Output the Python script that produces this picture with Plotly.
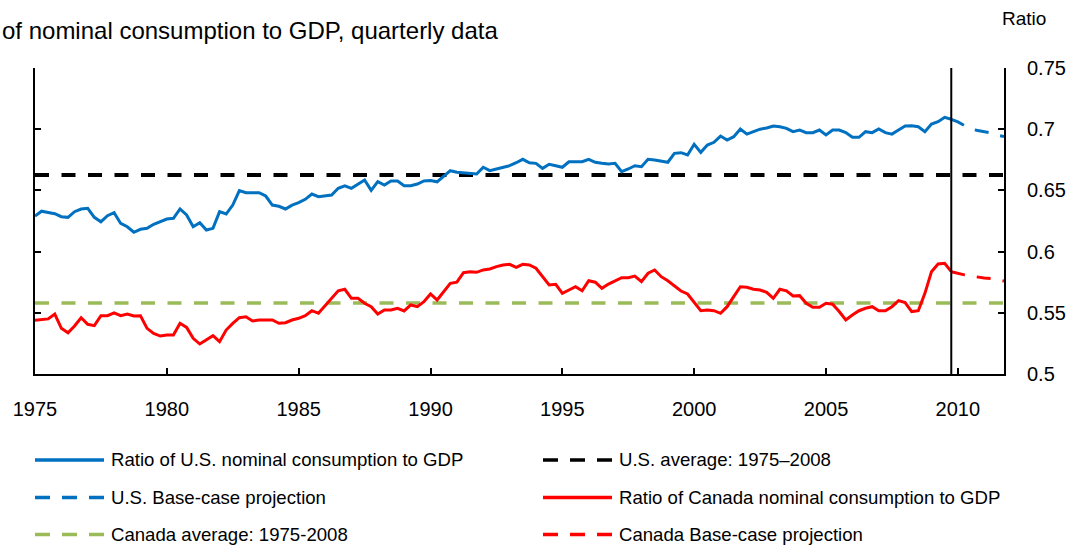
import plotly.graph_objects as go

# ---------------- data ----------------
start_year = 1975          # first quarter = 1975Q1
quarters_per_year = 4

us_ratio = [
    0.629, 0.633, 0.632, 0.631, 0.6285, 0.628, 0.6326, 0.6348, 0.6354, 0.628,
    0.6244, 0.6293, 0.6318, 0.623, 0.6203, 0.6158, 0.6182, 0.619, 0.6223, 0.6244,
    0.6266, 0.6272, 0.6348, 0.6299, 0.6203, 0.6236, 0.6176, 0.619, 0.6326, 0.6307,
    0.638, 0.6498, 0.6481, 0.648, 0.6481, 0.6454, 0.638, 0.637, 0.6348, 0.638,
    0.64, 0.6427, 0.647, 0.6449, 0.6455, 0.6462, 0.6517, 0.6538, 0.6517, 0.655,
    0.6585, 0.65, 0.6571, 0.6544, 0.6577, 0.6577, 0.6538, 0.6538, 0.6552, 0.6577,
    0.658, 0.657, 0.6618, 0.6661, 0.6648, 0.6645, 0.6642, 0.6634, 0.6689, 0.6661,
    0.6675, 0.6691, 0.6702, 0.6726, 0.6754, 0.6726, 0.6721, 0.668, 0.6713, 0.6702,
    0.6689, 0.6734, 0.6734, 0.6734, 0.6754, 0.673, 0.6721, 0.6716, 0.6721, 0.6653,
    0.6675, 0.6702, 0.6694, 0.6754, 0.6748, 0.674, 0.673, 0.6803, 0.6808, 0.6789,
    0.6877, 0.6811, 0.6871, 0.6893, 0.6944, 0.6912, 0.6939, 0.7002, 0.696, 0.698,
    0.700, 0.701, 0.7026, 0.702, 0.7007, 0.698, 0.6993, 0.6972, 0.6972, 0.6993,
    0.6953, 0.6993, 0.6993, 0.6972, 0.6934, 0.6934, 0.698, 0.6972, 0.7002, 0.6972,
    0.696, 0.6993, 0.7026, 0.7028, 0.702, 0.698, 0.7042, 0.7061, 0.7097, 0.7081,
]

ca_ratio = [
    0.544, 0.5445, 0.545, 0.549, 0.5373, 0.5337, 0.5392, 0.546, 0.5406, 0.5395,
    0.5476, 0.5476, 0.55, 0.5476, 0.549, 0.5474, 0.5476, 0.5373, 0.5332, 0.531,
    0.5318, 0.5318, 0.5414, 0.5381, 0.5292, 0.5245, 0.5278, 0.5313, 0.5264, 0.5359,
    0.5414, 0.546, 0.5468, 0.5433, 0.5441, 0.5441, 0.5441, 0.5414, 0.5419, 0.5441,
    0.5455, 0.5476, 0.5517, 0.5496, 0.5558, 0.5618, 0.568, 0.5692, 0.5618, 0.5618,
    0.5578, 0.555, 0.549, 0.5523, 0.5523, 0.5537, 0.5515, 0.5564, 0.555, 0.5591,
    0.5654, 0.5605, 0.5673, 0.5741, 0.575, 0.5828, 0.5836, 0.5831, 0.585, 0.5858,
    0.5877, 0.5891, 0.5896, 0.5872, 0.5896, 0.5891, 0.5864, 0.5795, 0.5727, 0.5733,
    0.5659, 0.5686, 0.5713, 0.568, 0.5762, 0.575, 0.57, 0.5735, 0.5762, 0.5787,
    0.5787, 0.58, 0.5754, 0.5823, 0.585, 0.5795, 0.5762, 0.5721, 0.5678, 0.5654,
    0.5583, 0.5517, 0.5523, 0.5517, 0.5496, 0.555, 0.5632, 0.5713, 0.5708, 0.5692,
    0.5686, 0.5667, 0.5618, 0.5692, 0.568, 0.5637, 0.564, 0.5578, 0.5545, 0.5545,
    0.5578, 0.557, 0.551, 0.5441, 0.5482, 0.5517, 0.5537, 0.555, 0.5517, 0.5517,
    0.555, 0.5599, 0.5583, 0.551, 0.5517, 0.5659, 0.5836, 0.5899, 0.5904, 0.5836,
]

# projections: 2009Q4 .. 2011Q4
us_proj = [0.7081, 0.706, 0.703, 0.700, 0.699, 0.698, 0.697, 0.695, 0.694]
ca_proj = [0.5836, 0.582, 0.581, 0.580, 0.579, 0.5785, 0.578, 0.577, 0.576]

us_avg = 0.6626   # U.S. average: 1975–2008
ca_avg = 0.558    # Canada average: 1975-2008

x_ticks = [1975, 1980, 1985, 1990, 1995, 2000, 2005, 2010]
y_ticks = [0.5, 0.55, 0.6, 0.65, 0.7, 0.75]
y_tick_text = ["0.5", "0.55", "0.6", "0.65", "0.7", "0.75"]

legend_names = [
    "Ratio of U.S. nominal consumption to GDP",
    "U.S. average: 1975–2008",
    "U.S. Base-case projection",
    "Ratio of Canada nominal consumption to GDP",
    "Canada average: 1975-2008",
    "Canada Base-case projection",
]

# ---------------- derived x positions ----------------
hist_x = [start_year + i / quarters_per_year for i in range(len(us_ratio))]
proj_start = hist_x[-1]
proj_x = [proj_start + i / quarters_per_year for i in range(len(us_proj))]
x_min, x_max = start_year, proj_x[-1]

BLUE = "#0070C0"
RED = "#FF0000"
GREEN = "#9BBB59"
BLACK = "#000000"
FONT = "Liberation Sans, Arial, sans-serif"

fig = go.Figure()
fig.add_trace(go.Scatter(x=[x_min, x_max], y=[us_avg, us_avg], mode="lines",
                         line=dict(color=BLACK, width=4, dash="14px,12.5px"),
                         name=legend_names[1], showlegend=False))
fig.add_trace(go.Scatter(x=[x_min, x_max], y=[ca_avg, ca_avg], mode="lines",
                         line=dict(color=GREEN, width=3.5, dash="14px,12.5px"),
                         name=legend_names[4], showlegend=False))
fig.add_trace(go.Scatter(x=hist_x, y=us_ratio, mode="lines",
                         line=dict(color=BLUE, width=3),
                         name=legend_names[0], showlegend=False))
fig.add_trace(go.Scatter(x=hist_x, y=ca_ratio, mode="lines",
                         line=dict(color=RED, width=3),
                         name=legend_names[3], showlegend=False))
fig.add_trace(go.Scatter(x=proj_x, y=us_proj, mode="lines",
                         line=dict(color=BLUE, width=3, dash="14px,12px"),
                         name=legend_names[2], showlegend=False))
fig.add_trace(go.Scatter(x=proj_x, y=ca_proj, mode="lines",
                         line=dict(color=RED, width=3, dash="14px,12px"),
                         name=legend_names[5], showlegend=False))

# vertical line marking start of projection
fig.add_shape(type="line", xref="x", yref="paper", x0=proj_start, x1=proj_start,
              y0=0, y1=1, line=dict(color=BLACK, width=2))

# ---------------- manual legend (pixel layout converted to paper) ----------------
L, R, T, B = 35, 74, 68, 178
W, H = 1078, 552
pw, ph = W - L - R, H - T - B

def px(xp):
    return (xp - L) / pw

def py(yp):
    return (H - B - yp) / ph

legend_items = [
    (legend_names[0], BLUE, None, 35, 460),
    (legend_names[1], BLACK, "15px,12px", 543, 460),
    (legend_names[2], BLUE, "15px,12px", 35, 497.5),
    (legend_names[3], RED, None, 543, 497.5),
    (legend_names[4], GREEN, "15px,12px", 35, 534.5),
    (legend_names[5], RED, "15px,12px", 543, 534.5),
]
for name, color, dash, x0, y0 in legend_items:
    line = dict(color=color, width=3.5)
    if dash:
        line["dash"] = dash
    fig.add_shape(type="line", xref="paper", yref="paper",
                  x0=px(x0), x1=px(x0 + 69), y0=py(y0), y1=py(y0), line=line)
    fig.add_annotation(xref="paper", yref="paper", x=px(x0 + 74), y=py(y0),
                       xanchor="left", yanchor="middle", text=name, showarrow=False,
                       font=dict(family=FONT, size=18.6, color=BLACK))

# title fragment and unit label
fig.add_annotation(xref="paper", yref="paper", x=px(0), y=py(30),
                   xanchor="left", yanchor="middle",
                   text="of nominal consumption to GDP, quarterly data",
                   showarrow=False, font=dict(family=FONT, size=24, color=BLACK))
fig.add_annotation(xref="paper", yref="paper", x=px(1000), y=py(19),
                   xanchor="left", yanchor="middle", text="Ratio",
                   showarrow=False, font=dict(family=FONT, size=19, color=BLACK))

fig.update_layout(
    width=W, height=H,
    margin=dict(l=L, r=R, t=T, b=B, pad=0),
    paper_bgcolor="white", plot_bgcolor="white",
    showlegend=False,
    font=dict(family=FONT, size=20, color=BLACK),
    xaxis=dict(range=[x_min, x_max], tickmode="array", tickvals=x_ticks,
               ticks="inside", ticklen=6, tickwidth=1.5, tickcolor=BLACK,
               showline=True, linecolor=BLACK, linewidth=2, mirror=False,
               showgrid=False, zeroline=False, ticklabelstandoff=16,
               tickfont=dict(family=FONT, size=20, color=BLACK)),
    yaxis=dict(range=[0.5, 0.75], side="right", tickmode="array",
               tickvals=y_ticks, ticktext=y_tick_text,
               ticks="inside", ticklen=6, tickwidth=1.5, tickcolor=BLACK,
               showline=True, linecolor=BLACK, linewidth=2, mirror="ticks",
               showgrid=False, zeroline=False, ticklabelstandoff=17,
               tickfont=dict(family=FONT, size=20, color=BLACK)),
)

fig.write_html("out.html",
               config={"displayModeBar": False},
               post_script="document.body.style.margin='0px';document.body.style.overflow='hidden';")
